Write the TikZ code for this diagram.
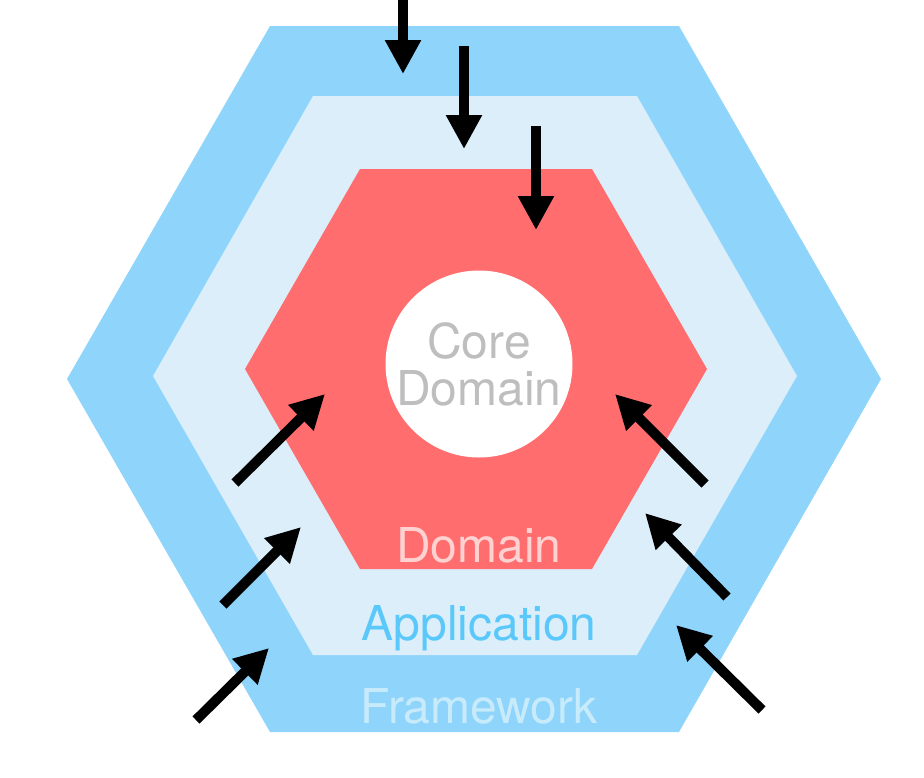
\documentclass[tikz,border=0pt]{standalone}
\usepackage{fontspec}
\setmainfont{TeX Gyre Heros}
\usetikzlibrary{arrows.meta}

\definecolor{frameworkfill}{HTML}{8FD4FB}
\definecolor{applicationfill}{HTML}{DBEEF9}
\definecolor{domainfill}{HTML}{FF6D6E}
\definecolor{coretext}{HTML}{BEBEBE}
\definecolor{domaintext}{HTML}{FFD2D2}
\definecolor{applicationtext}{HTML}{5AC8FA}
\definecolor{frameworktext}{HTML}{C8EBFC}

\begin{document}
\begin{tikzpicture}[x=1pt, y=-1pt,
	layer/.style={font=\fontsize{48}{48}\selectfont, anchor=base},
	dep/.style={line width=10pt, -{Triangle[width=34pt,length=34pt]}}]
	\useasboundingbox (0,0) rectangle (924,777);

	\begin{scope}
		\fill[frameworkfill] (270,26) -- (679,26) -- (881,379) -- (679,732) -- (270,732) -- (67,379) -- cycle;
		\fill[applicationfill] (313,96) -- (637,96) -- (797,376) -- (637,655) -- (313,655) -- (153,376) -- cycle;
		\fill[domainfill] (360,169) -- (592,169) -- (707,369) -- (592,569) -- (360,569) -- (245,369) -- cycle;
	\end{scope}

	\node[circle, fill=white, minimum size=187pt, inner sep=0pt, align=center, text=coretext,
		font=\fontsize{48}{47}\selectfont] (core) at (479,364) {Core\\Domain};

	\node[layer, text=domaintext] (domain) at (479,562) {Domain};
	\node[layer, text=applicationtext] (application) at (479,640) {Application};
	\node[layer, text=frameworktext] (framework) at (479,723) {Framework};

	% incoming dependencies
	\coordinate (tail1) at (403,0);   \coordinate (tip1) at (403,74);
	\coordinate (tail2) at (464,46);  \coordinate (tip2) at (464,149);
	\coordinate (tail3) at (536,126); \coordinate (tip3) at (536,230);
	\coordinate (tail4) at (235,483); \coordinate (tip4) at (325,394);
	\coordinate (tail5) at (223,605); \coordinate (tip5) at (301,527);
	\coordinate (tail6) at (196,720); \coordinate (tip6) at (269,648);
	\coordinate (tail7) at (705,484); \coordinate (tip7) at (615,394);
	\coordinate (tail8) at (727,597); \coordinate (tip8) at (645,513);
	\coordinate (tail9) at (762,710); \coordinate (tip9) at (676,625);

	\foreach \i in {1,...,9}
	{
		\draw[dep] (tail\i) -- (tip\i);
	}
\end{tikzpicture}
\end{document}
